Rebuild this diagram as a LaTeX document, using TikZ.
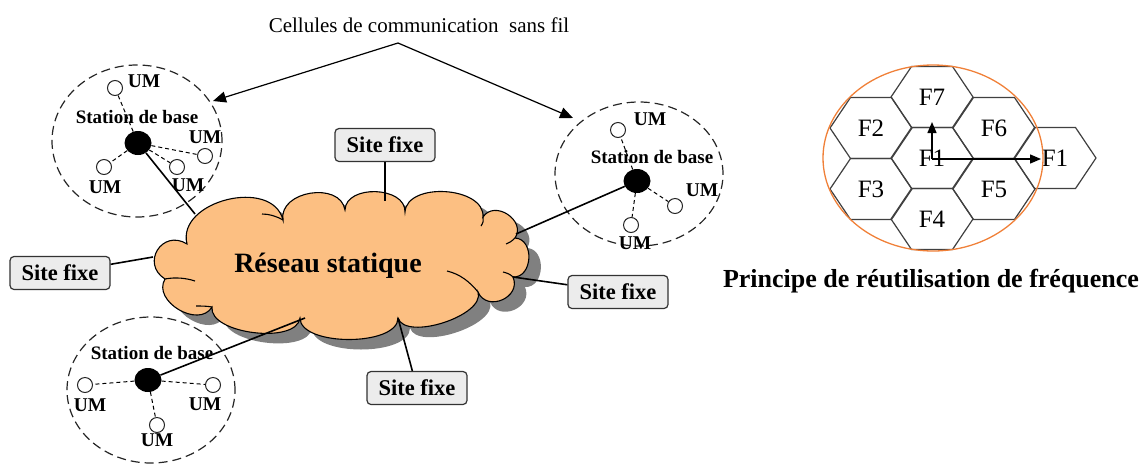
\documentclass[tikz,border=0pt]{standalone}
\usepackage{fontspec}
\setmainfont{Liberation Serif}
\usetikzlibrary{shapes.geometric,arrows.meta}

\definecolor{cloudfill}{RGB}{252,191,130}
\definecolor{ringorange}{RGB}{240,128,56}
\definecolor{boxfill}{RGB}{236,236,236}

% outline of the network cloud (one bulge per puff)
\def\cloudoutline{(165,279)
  to[bend left=90, looseness=1.8] (187,244)
  to[bend left=90, looseness=1.15] (283,220)
  to[bend left=90, looseness=1.2] (345,210)
  to[bend left=90, looseness=1.1] (405,212)
  to[bend left=90, looseness=1.0] (483,217)
  to[bend left=90, looseness=1.4] (515,238)
  to[bend left=90, looseness=1.3] (513,277)
  to[bend left=90, looseness=1.5] (478,292)
  to[bend left=90, looseness=0.75] (398,318)
  to[bend left=90, looseness=0.75] (300,318)
  to[bend left=90, looseness=0.78] (212,307)
  to[bend left=90, looseness=1.2] cycle}

\begin{document}
\begin{tikzpicture}[x=1pt,y=-1pt,
  cellring/.style={draw=black!85, dash pattern=on 9pt off 5pt, line width=1.2pt},
  basestn/.style={ellipse, fill=black, minimum width=27pt, minimum height=24pt, inner sep=0},
  um/.style={circle, draw=black!85, fill=white, line width=1pt, minimum size=15pt, inner sep=0},
  umtext/.style={font=\bfseries\fontsize{19.5}{21}\selectfont, inner sep=0},
  sttext/.style={font=\bfseries\fontsize{19}{21}\selectfont, inner sep=0},
  sitebox/.style={draw=black!80, fill=boxfill, rounded corners=4pt, line width=1.2pt,
    minimum width=100pt, minimum height=33pt, font=\bfseries\fontsize{22.5}{24}\selectfont, inner sep=0},
  link/.style={line width=1.6pt},
  radio/.style={dash pattern=on 4pt off 3pt, line width=1pt},
  puffline/.style={line width=1.1pt},
  hexcell/.style={draw=black!75, line width=1.2pt},
  flab/.style={font=\fontsize{25}{27}\selectfont, inner sep=0},
  pointer/.style={line width=1.2pt, -{Triangle[length=13pt,width=11pt]}},
  hexarrow/.style={line width=1.4pt, -{Triangle[length=11pt,width=9pt]}},
]
\useasboundingbox (0,0) rectangle (1145,464);

% ---------- title and pointers to the cells ----------
\node[font=\fontsize{21}{23}\selectfont, inner sep=0] (title) at (419,25) {Cellules de communication\ \ sans fil};
\coordinate (apex) at (398,43);
\coordinate (tipL) at (213,101);
\coordinate (tipR) at (573,118);
\draw[pointer] (apex) -- (tipL);
\draw[pointer] (apex) -- (tipR);

% ---------- network cloud ----------
\begin{scope}[shift={(12,10)}]
  \fill[black!50] \cloudoutline;
\end{scope}
\draw[puffline, fill=cloudfill] \cloudoutline;
% short inner strokes where the puffs overlap
\draw[puffline] (165,279) .. controls (175,277) and (186,278) .. (195,281);
\draw[puffline] (283,220) .. controls (276,216) and (269,214) .. (262,214);
\draw[puffline] (483,217) .. controls (484,220) and (483,223) .. (481,226);
\draw[puffline] (513,277) .. controls (510,274) and (507,273) .. (503,272);
\draw[puffline] (515,238) .. controls (512,241) and (509,243) .. (506,244);
\draw[puffline] (478,292) .. controls (470,282) and (460,274) .. (447,271);
\draw[puffline] (212,307) .. controls (207,306) and (201,306) .. (196,306);
\node[font=\bfseries\fontsize{28}{30}\selectfont, inner sep=0] (netlabel) at (328,266) {Réseau statique};

% attachment points on the cloud border
\coordinate (nTL) at (195,214);
\coordinate (nT) at (385,201);
\coordinate (nL) at (153,257);
\coordinate (nR1) at (516,234);
\coordinate (nR2) at (513,277);
\coordinate (nB) at (398,318);
\coordinate (nBL) at (305,318);

% ---------- upper left cell ----------
\draw[cellring] (137,141) ellipse [x radius=85pt, y radius=76pt];
\node[basestn] (bsA) at (138,143) {};
\node[sttext] (stA) at (137,117) {Station de base};
\node[um] (a1) at (115,88) {};
\node[um] (a2) at (205,156) {};
\node[um] (a3) at (177,167) {};
\node[um] (a4) at (104,167) {};
\node[umtext] (la1) at (144,81) {UM};
\node[umtext] (la2) at (205,137) {UM};
\node[umtext] (la3) at (188,185) {UM};
\node[umtext] (la4) at (105,187) {UM};
\foreach \u in {a1,a2,a3,a4} \draw[radio] (bsA) -- (\u);

% ---------- right cell ----------
\draw[cellring] (639,174) ellipse [x radius=84pt, y radius=72pt];
\node[basestn] (bsB) at (637,181) {};
\node[sttext] (stB) at (652,157) {Station de base};
\node[um] (b1) at (618,130) {};
\node[um] (b2) at (675,206) {};
\node[um] (b3) at (631,225) {};
\node[umtext] (lb1) at (650,119) {UM};
\node[umtext] (lb2) at (702,190) {UM};
\node[umtext] (lb3) at (635,243) {UM};
\foreach \u in {b1,b2,b3} \draw[radio] (bsB) -- (\u);

% ---------- lower cell ----------
\draw[cellring] (151,390) ellipse [x radius=84pt, y radius=73pt];
\node[basestn] (bsC) at (148,380) {};
\node[sttext] (stC) at (152,353) {Station de base};
\node[um] (c1) at (85,385) {};
\node[um] (c2) at (213,385) {};
\node[um] (c3) at (157,425) {};
\node[umtext] (lc1) at (90,405) {UM};
\node[umtext] (lc2) at (205,404) {UM};
\node[umtext] (lc3) at (157,440) {UM};
\foreach \u in {c1,c2,c3} \draw[radio] (bsC) -- (\u);

% ---------- fixed sites ----------
\node[sitebox] (sT) at (385,145) {Site fixe};
\node[sitebox] (sL) at (60,273) {Site fixe};
\node[sitebox] (sR) at (618,292) {Site fixe};
\node[sitebox] (sB) at (417,388) {Site fixe};

% ---------- wired links to the cloud ----------
\draw[link] (bsA) -- (nTL);
\draw[link] (bsB) -- (nR1);
\draw[link] (bsC) -- (nBL);
\draw[link] (sT) -- (nT);
\draw[link] (sL) -- (nL);
\draw[link] (sR) -- (nR2);
\draw[link] (sB) -- (nB);

% ---------- frequency reuse cluster ----------
\foreach \n/\cx/\cy/\t in {f1/932/158/F1, f7/932/97/F7, f4/932/219/F4, f2/871/128/F2,
    f3/871/189/F3, f6/994/128/F6, f5/994/189/F5, f1b/1055/158/F1} {
  \draw[hexcell] (\cx-41,\cy) -- ++(20.5,-30.5) -- ++(41,0) -- ++(20.5,30.5)
    -- ++(-20.5,30.5) -- ++(-41,0) -- cycle;
  \node[flab] (\n) at (\cx,\cy) {\t};
}
\draw[ringorange, line width=1.3pt] (933,158) ellipse [x radius=110pt, y radius=93pt];
\coordinate (hexO) at (932,159);
\coordinate (upTip) at (932,122);
\coordinate (rightTip) at (1041,159);
\draw[hexarrow] (hexO) -- (upTip);
\draw[hexarrow] (hexO) -- (rightTip);

\node[font=\bfseries\fontsize{26}{28}\selectfont, inner sep=0] (principe) at (931,281)
  {Principe de réutilisation de fréquence};
\end{tikzpicture}
\end{document}
